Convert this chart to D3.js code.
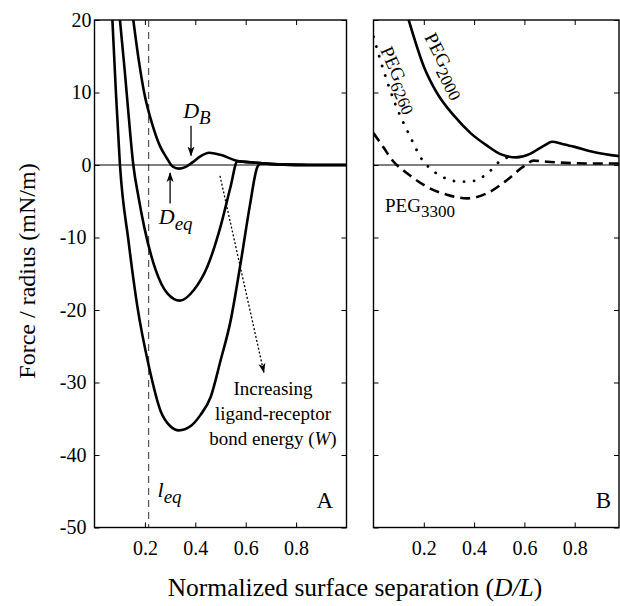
<!DOCTYPE html>
<html>
<head>
<meta charset="utf-8">
<script src="https://cdn.jsdelivr.net/npm/d3@7"></script>
<style>
  body { margin: 0; background: #fff; }
  svg text { font-family: 'Liberation Serif', 'DejaVu Serif', 'Times New Roman', Times, serif; fill: #000; }
</style>
</head>
<body>
<script>
// ---- data: [D/L, force/radius] ----
var weakW   = [[0.154,20],[0.175,14.6],[0.197,10],[0.233,5.2],[0.26,2.6],[0.286,1.0],[0.31,-0.2],[0.335,-0.5],[0.36,-0.3],[0.39,0.4],[0.42,1.2],[0.455,1.7],[0.5,1.4],[0.564,0.6],[0.644,0.3],[0.75,0.05],[0.85,0],[1,0]];
var midW    = [[0.101,20],[0.12,13],[0.135,7],[0.154,0],[0.175,-4.5],[0.197,-8.5],[0.243,-14.5],[0.289,-17.7],[0.339,-18.7],[0.395,-17.2],[0.448,-14],[0.5,-8.5],[0.54,-3],[0.567,0.5],[0.644,0.3],[0.75,0.05],[0.85,0],[1,0]];
var strongW = [[0.071,20],[0.085,10],[0.101,0],[0.135,-10.5],[0.17,-19.5],[0.216,-27.8],[0.263,-34],[0.3,-36],[0.335,-36.6],[0.382,-36],[0.42,-34.5],[0.461,-32],[0.5,-27],[0.54,-21.5],[0.58,-13.5],[0.617,-5.5],[0.646,-0.3],[0.66,0.2],[0.75,0.05],[0.85,0],[1,0]];

var peg2000 = [[0.14,20],[0.2,13.6],[0.253,9.9],[0.32,6.8],[0.386,4.4],[0.45,2.7],[0.505,1.5],[0.567,1.05],[0.62,1.5],[0.65,2.1],[0.68,2.7],[0.71,3.2],[0.75,2.9],[0.8,2.5],[0.875,1.8],[0.98,1.2]];
var peg6260 = [[0,17.7],[0.027,14.5],[0.08,9],[0.146,3.9],[0.194,0.7],[0.233,-0.7],[0.272,-1.6],[0.345,-2.3],[0.398,-2.2],[0.464,-0.8],[0.505,0.6],[0.53,1.0]];
var peg3300 = [[0,4.4],[0.04,2.4],[0.08,0.45],[0.132,-1.1],[0.212,-3],[0.292,-4.1],[0.372,-4.6],[0.451,-3.9],[0.53,-2.1],[0.597,-0.2],[0.637,0.6],[0.69,0.45],[0.876,0.2],[0.98,0.2]];

var lEq = 0.215;
var yTicks = [20,10,0,-10,-20,-30,-40,-50];
var xTicks = [0.2,0.4,0.6,0.8];
var wNote = ["Increasing","ligand-receptor","bond energy ("];

var svg = d3.select("body").append("svg")
    .attr("width",620)
    .attr("height",606);

var top_ = 20, bottom = 527.5;
var y = d3.scaleLinear().domain([-50,20]).range([bottom, top_]);
var xA = d3.scaleLinear().domain([0,1]).range([94.5,346.5]);
var xB = d3.scaleLinear().domain([0,1]).range([373.5,625]);
var rightB = 619;

var defs = svg.append("defs");
defs.append("clipPath").attr("id","clipA").append("rect")
    .attr("x",xA(0)).attr("y",top_).attr("width",xA(1)-xA(0)).attr("height",bottom-top_);
defs.append("clipPath").attr("id","clipB").append("rect")
    .attr("x",xB(0)).attr("y",top_).attr("width",rightB-xB(0)).attr("height",bottom-top_);
defs.append("marker").attr("id","head").attr("viewBox","0 0 10 10")
    .attr("refX",9).attr("refY",5).attr("markerWidth",10).attr("markerHeight",10)
    .attr("markerUnits","userSpaceOnUse").attr("orient","auto")
    .append("path").attr("d","M0,1.5 L10,5 L0,8.5 L2.5,5 Z").attr("fill","#000");

function frame(x0, x1){
    svg.append("rect").attr("x",x0).attr("y",top_).attr("width",x1-x0).attr("height",bottom-top_)
        .attr("fill","none").attr("stroke","#000").attr("stroke-width",1.4);
}
frame(xA(0), xA(1));
frame(xB(0), rightB);

// axes, ticks inward
var fmt = function(d){ return String(d); };
var gl = svg.append("g").attr("transform","translate("+xA(0)+",0)")
    .call(d3.axisLeft(y).tickValues(yTicks).tickSize(-5).tickPadding(3).tickFormat(fmt));
gl.selectAll("text").attr("x", function(d){ return d < 0 ? -8 : -3; });
svg.append("g").attr("transform","translate("+xA(1)+",0)")
    .call(d3.axisRight(y).tickValues(yTicks).tickSize(-5).tickFormat(""));
svg.append("g").attr("transform","translate("+xB(0)+",0)")
    .call(d3.axisLeft(y).tickValues(yTicks).tickSize(-5).tickFormat(""));
svg.append("g").attr("transform","translate("+rightB+",0)")
    .call(d3.axisRight(y).tickValues(yTicks).tickSize(-5).tickFormat(""));
[xA, xB].forEach(function(x){
    svg.append("g").attr("transform","translate(0,"+bottom+")")
        .call(d3.axisBottom(x).tickValues(xTicks).tickSize(-5).tickPadding(13).tickFormat(fmt));
    svg.append("g").attr("transform","translate(0,"+top_+")")
        .call(d3.axisTop(x).tickValues(xTicks).tickSize(-5).tickFormat(""));
});
svg.selectAll(".domain").remove();
svg.selectAll("g").attr("font-family", null).attr("font-size", null);
svg.selectAll(".tick line").attr("stroke","#000").attr("stroke-width",1);
svg.selectAll(".tick text").style("font-size","20px");

// zero lines
svg.append("line").attr("x1",xA(0)).attr("x2",xA(1)).attr("y1",y(0)).attr("y2",y(0))
    .attr("stroke","#000").attr("stroke-width",1);
svg.append("line").attr("x1",xB(0)).attr("x2",rightB).attr("y1",y(0)).attr("y2",y(0))
    .attr("stroke","#000").attr("stroke-width",1);

// l_eq dashed line
svg.append("line").attr("x1",xA(lEq)).attr("x2",xA(lEq)).attr("y1",top_).attr("y2",bottom)
    .attr("stroke","#333").attr("stroke-width",1).attr("stroke-dasharray","7,5");

// panel A curves
var gA = svg.append("g").attr("clip-path","url(#clipA)");
var lineA = d3.line().x(function(d){return xA(d[0]);}).y(function(d){return y(d[1]);}).curve(d3.curveMonotoneX);
[weakW, midW, strongW].forEach(function(c){
    gA.append("path").attr("d",lineA(c)).attr("fill","none")
        .attr("stroke","#000").attr("stroke-width",2.6).attr("stroke-linejoin","round");
});

// panel B curves
var gB = svg.append("g").attr("clip-path","url(#clipB)");
var lineB = d3.line().x(function(d){return xB(d[0]);}).y(function(d){return y(d[1]);}).curve(d3.curveMonotoneX);
gB.append("path").attr("d",lineB(peg2000)).attr("fill","none").attr("stroke","#000").attr("stroke-width",2.6);
gB.append("path").attr("d",lineB(peg6260)).attr("fill","none").attr("stroke","#000").attr("stroke-width",2.8)
    .attr("stroke-linecap","round").attr("stroke-dasharray","0.1,10");
gB.append("path").attr("d",lineB(peg3300)).attr("fill","none").attr("stroke","#000").attr("stroke-width",2.6)
    .attr("stroke-dasharray","10,6");

// arrows
function arrow(x1,y1,x2,y2,dash,w){
    svg.append("line").attr("x1",x1).attr("y1",y1).attr("x2",x2).attr("y2",y2)
        .attr("stroke","#000").attr("stroke-width",w)
        .attr("stroke-dasharray",dash).attr("marker-end","url(#head)");
}
arrow(xA(0.383), y(5.4), xA(0.383), y(1.3), null, 1.3);
arrow(xA(0.3), y(-5.3), xA(0.3), y(-1.1), null, 1.3);
arrow(xA(0.498), y(-1.5), xA(0.672), y(-28.6), "2,2", 1.3);

// labels
function sublabel(x, yy, main, sub, size, subSize, italic, rot){
    var t = svg.append("text").attr("x",x).attr("y",yy).style("font-size",size+"px");
    if (rot) t.attr("transform","rotate("+rot+","+x+","+yy+")");
    if (italic) t.style("font-style","italic");
    t.append("tspan").text(main);
    t.append("tspan").attr("dy",size*0.28).style("font-size",subSize+"px").text(sub);
    return t;
}
sublabel(xA(0.352), 118, "D", "B", 22, 19, true);
sublabel(xA(0.255), 224, "D", "eq", 22, 19, true);
sublabel(xA(0.25), 497, "l", "eq", 22, 19, true);

sublabel(385, 212, "PEG", "3300", 19, 17, false);
sublabel(424, 37, "PEG", "2000", 19, 17, false, 63);
sublabel(380, 50, "PEG", "6260", 19, 17, false, 66);

var noteX = 273;
wNote.forEach(function(s,i){
    var t = svg.append("text").attr("x",noteX).attr("y",395+i*25)
        .attr("text-anchor","middle").style("font-size","19px").text(s);
    if (i === 2) {
        t.append("tspan").style("font-style","italic").text("W");
        t.append("tspan").text(")");
    }
});

svg.append("text").attr("x",333).attr("y",508).attr("text-anchor","end").style("font-size","23px").text("A");
svg.append("text").attr("x",611).attr("y",508).attr("text-anchor","end").style("font-size","23px").text("B");

// axis titles
svg.append("text").attr("transform","translate(35,271) rotate(-90)").attr("text-anchor","middle")
    .style("font-size","24px").text("Force / radius (mN/m)");
var xt = svg.append("text").attr("x",355).attr("y",596).attr("text-anchor","middle").style("font-size","25.5px");
xt.append("tspan").text("Normalized surface separation (");
xt.append("tspan").style("font-style","italic").text("D/L");
xt.append("tspan").text(")");
</script>
</body>
</html>
